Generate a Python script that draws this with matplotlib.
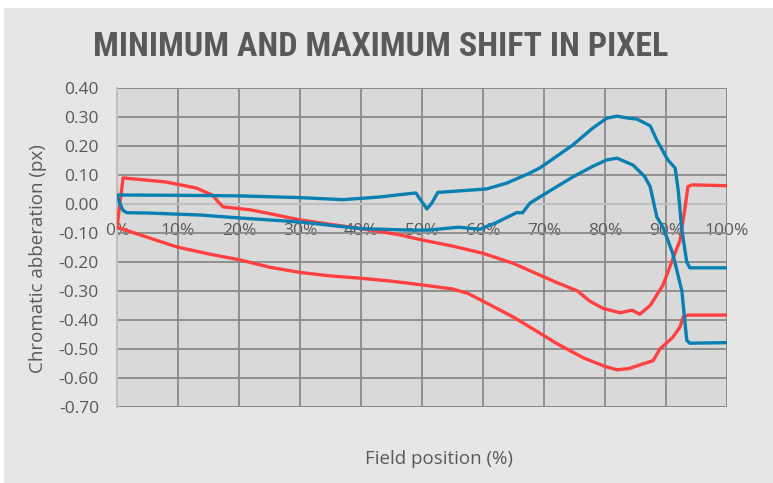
import matplotlib.pyplot as plt
from matplotlib.patches import Rectangle

# field position (%) and chromatic aberration (px) for each curve
red_max_x = [0, 1, 3, 8, 13, 15.7, 16.6, 17.4, 21.8, 25, 30, 35, 40, 46, 50, 55, 60, 65,
             69.3, 72, 75.5, 77.5, 79.7, 82.5, 84.4, 85.7, 87.4, 89.5, 91.1, 92.3, 93.0,
             93.6, 94.3, 100]
red_max_y = [-0.08, 0.09, 0.086, 0.076, 0.055, 0.03, 0.007, -0.01, -0.02, -0.033, -0.055,
             -0.07, -0.085, -0.105, -0.124, -0.145, -0.17, -0.205, -0.245, -0.27, -0.30,
             -0.335, -0.36, -0.375, -0.366, -0.38, -0.35, -0.28, -0.19, -0.125, -0.03, 0.06,
             0.066, 0.063]

red_min_x = [0, 5, 9.8, 15, 20.2, 25, 30, 35, 40, 45, 50, 55, 57.5, 60, 65, 69.3, 72, 76.4,
             80, 82, 84, 85.7, 87.9, 89, 91.1, 92.3, 92.8, 93.6, 100]
red_min_y = [-0.08, -0.115, -0.148, -0.172, -0.193, -0.218, -0.236, -0.248, -0.256, -0.266,
             -0.279, -0.293, -0.308, -0.335, -0.39, -0.445, -0.48, -0.53, -0.56, -0.572,
             -0.567, -0.555, -0.54, -0.50, -0.46, -0.424, -0.39, -0.383, -0.383]

blue_max_x = [0, 10, 20, 30, 37, 43, 48, 49, 50, 50.8, 51.6, 52.6, 56, 60.6, 63.9, 67.7,
              69.3, 74.7, 78, 80.3, 82, 83.8, 85.2, 87.4, 88.5, 90.3, 91.5, 92, 92.6, 93.4,
              93.9, 100]
blue_max_y = [0.031, 0.03, 0.028, 0.022, 0.015, 0.024, 0.036, 0.038, 0.007, -0.017, 0.003,
              0.04, 0.045, 0.052, 0.072, 0.107, 0.124, 0.203, 0.262, 0.296, 0.303, 0.296,
              0.293, 0.27, 0.22, 0.152, 0.124, 0.048, -0.09, -0.2, -0.22, -0.22]

blue_min_x = [0, 0.5, 1.0, 1.6, 5, 13.6, 20, 30, 40, 48, 51, 56, 59.5, 62, 65.5, 66.5,
              67.7, 69.3, 74.7, 78, 80.3, 82, 84.6, 86.5, 87.4, 88.5, 89.5, 91.1, 92.6, 93.4,
              93.9, 100]
blue_min_y = [0.03, 0.0, -0.022, -0.03, -0.031, -0.038, -0.048, -0.062, -0.085, -0.09,
              -0.09, -0.08, -0.087, -0.066, -0.03, -0.03, 0.003, 0.024, 0.093, 0.13, 0.152,
              0.158, 0.134, 0.095, 0.06, -0.045, -0.08, -0.17, -0.30, -0.47, -0.48, -0.478]

x_ticks = list(range(0, 101, 10))
x_tick_labels = [f'{v}%' for v in x_ticks]
y_ticks = [0.4, 0.3, 0.2, 0.1, 0.0, -0.1, -0.2, -0.3, -0.4, -0.5, -0.6, -0.7]

RED = '#ff4040'
BLUE = '#0a80b2'
TXT = '#595959'
GRID = '#8a8a8a'

plt.rcParams['font.family'] = ['Open Sans', 'DejaVu Sans']

fig = plt.figure(figsize=(7.73, 4.83), dpi=100, facecolor='white')
fig.patches.append(Rectangle((4 / 773, 0), 1, 475 / 483, transform=fig.transFigure,
                             facecolor='#e6e6e6', edgecolor='none', zorder=-1))

ax = fig.add_axes([117 / 773, 1 - 407 / 483, 610 / 773, 319 / 483])
ax.set_facecolor('#d9d9d9')

for xs, ys, c in [(red_max_x, red_max_y, RED), (red_min_x, red_min_y, RED),
                  (blue_max_x, blue_max_y, BLUE), (blue_min_x, blue_min_y, BLUE)]:
    ax.plot(xs, ys, color=c, lw=2.4, solid_joinstyle='round', solid_capstyle='round',
            zorder=3)

ax.set_xlim(0, 100)
ax.set_ylim(-0.7, 0.4)
ax.set_xticks(x_ticks)
ax.set_xticklabels(x_tick_labels)
ax.set_yticks(y_ticks)
ax.set_yticklabels([f'{v:.2f}' for v in y_ticks])
ax.grid(True, color=GRID, lw=1.3)
ax.set_axisbelow(True)

for s in ['top', 'right']:
    ax.spines[s].set_visible(False)
ax.spines['bottom'].set_position(('data', 0))
ax.spines['bottom'].set_color('#bfbfbf')
ax.spines['bottom'].set_linewidth(1.5)
ax.spines['bottom'].set_zorder(2.5)
ax.spines['left'].set_color('#bfbfbf')
ax.spines['left'].set_linewidth(1.5)
ax.tick_params(axis='both', length=0, labelsize=12.5, labelcolor=TXT)
ax.tick_params(axis='x', pad=14)
ax.tick_params(axis='y', pad=13)
ax.axhline(-0.7, color=GRID, lw=1.3, zorder=1)
ax.axhline(0.4, color=GRID, lw=1.3, zorder=1)
ax.axvline(100, color=GRID, lw=1.3, zorder=1)

fig.text(381 / 773, 1 - 47 / 483, 'MINIMUM AND MAXIMUM SHIFT IN PIXEL',
         family=['Roboto Condensed', 'Roboto'], fontweight='bold', fontsize=24.5,
         color=TXT, ha='center', va='center')
fig.text(38 / 773, 1 - 259 / 483, 'Chromatic abberation (px)', rotation=90,
         fontsize=13.5, color=TXT, ha='center', va='center')
fig.text(439 / 773, 1 - 459 / 483, 'Field position (%)', fontsize=13.5, color=TXT,
         ha='center', va='center')

fig.savefig('out.png', dpi=100, facecolor='white')
